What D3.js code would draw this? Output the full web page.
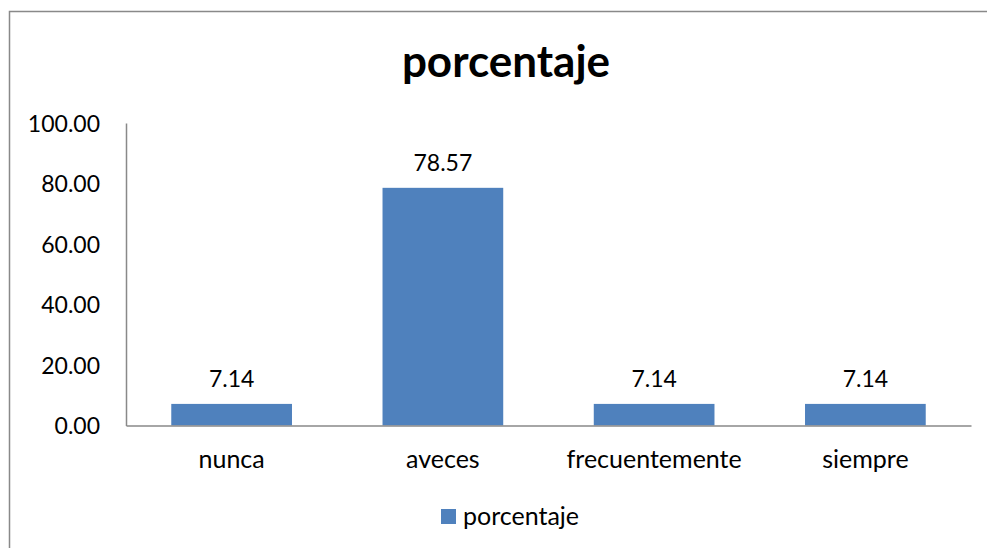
<!DOCTYPE html>
<html>
<head>
<meta charset="utf-8">
<script src="https://cdn.jsdelivr.net/npm/d3@7"></script>
<style>
  html, body { margin: 0; padding: 0; background: #fff; }
  svg { display: block; font-family: Lato, "Open Sans", sans-serif; }
</style>
</head>
<body>
<svg id="chart" width="987" height="548"></svg>
<script>
// Survey results: share of answers per frequency option
const categories = ["nunca", "aveces", "frecuentemente", "siempre"];
const values = [7.14, 78.57, 7.14, 7.14];
const yTicks = [0, 20, 40, 60, 80, 100];
const seriesName = "porcentaje";
const chartTitle = "porcentaje";

const svg = d3.select("#chart");
const W = 987, H = 548;
const plot = { left: 126, right: 971, top: 123, bottom: 425.5 };
const barColor = "#4F81BD";
const axisColor = "#898989";

// outer chart frame
svg.append("rect")
  .attr("x", 9.5).attr("y", 11.5)
  .attr("width", W + 10).attr("height", H + 10)
  .attr("fill", "#fff")
  .attr("stroke", axisColor).attr("stroke-width", 1.5);

const x = d3.scaleBand()
  .domain(categories)
  .range([plot.left, plot.right])
  .paddingInner(0.75 / 1.75)
  .paddingOuter(0.75 / 3.5);

const y = d3.scaleLinear()
  .domain([0, 100])
  .range([plot.bottom, plot.top]);

// title
svg.append("text")
  .attr("x", 506).attr("y", 77)
  .attr("text-anchor", "middle")
  .attr("font-weight", "bold")
  .attr("font-size", 44)
  .attr("fill", "#000")
  .text(chartTitle);

// bars
svg.append("g").selectAll("rect")
  .data(values)
  .join("rect")
  .attr("x", (d, i) => x(categories[i]))
  .attr("width", x.bandwidth())
  .attr("y", d => y(d))
  .attr("height", d => y(0) - y(d))
  .attr("fill", barColor);

// value labels
svg.append("g").selectAll("text")
  .data(values)
  .join("text")
  .attr("x", (d, i) => x(categories[i]) + x.bandwidth() / 2)
  .attr("y", d => y(d) - 17)
  .attr("text-anchor", "middle")
  .attr("font-size", 23)
  .attr("fill", "#000")
  .text(d => d.toFixed(2));

// y axis
const yAxis = d3.axisLeft(y)
  .tickValues(yTicks)
  .tickFormat(d3.format(".2f"))
  .tickSize(0)
  .tickPadding(26);
const gy = svg.append("g")
  .attr("transform", `translate(${plot.left},0)`)
  .call(yAxis);
gy.select(".domain").attr("stroke", axisColor).attr("stroke-width", 1.5);
gy.selectAll("text")
  .attr("font-family", "Lato, sans-serif")
  .attr("font-size", 23)
  .attr("fill", "#000")
  .attr("dy", "0.36em");

// x axis
const xAxis = d3.axisBottom(x).tickSize(0);
const gx = svg.append("g")
  .attr("transform", `translate(0,${plot.bottom})`)
  .call(xAxis);
gx.select(".domain").attr("stroke", axisColor).attr("stroke-width", 1.5);
gx.selectAll("text")
  .attr("font-family", "Lato, sans-serif")
  .attr("font-size", 25)
  .attr("fill", "#000")
  .attr("y", 42.5)
  .attr("dy", 0);

// legend
const legend = svg.append("g").attr("transform", "translate(441,509)");
legend.append("rect")
  .attr("width", 15).attr("height", 15)
  .attr("fill", barColor);
legend.append("text")
  .attr("x", 22).attr("y", 16)
  .attr("font-size", 25)
  .attr("fill", "#000")
  .text(seriesName);
</script>
</body>
</html>
